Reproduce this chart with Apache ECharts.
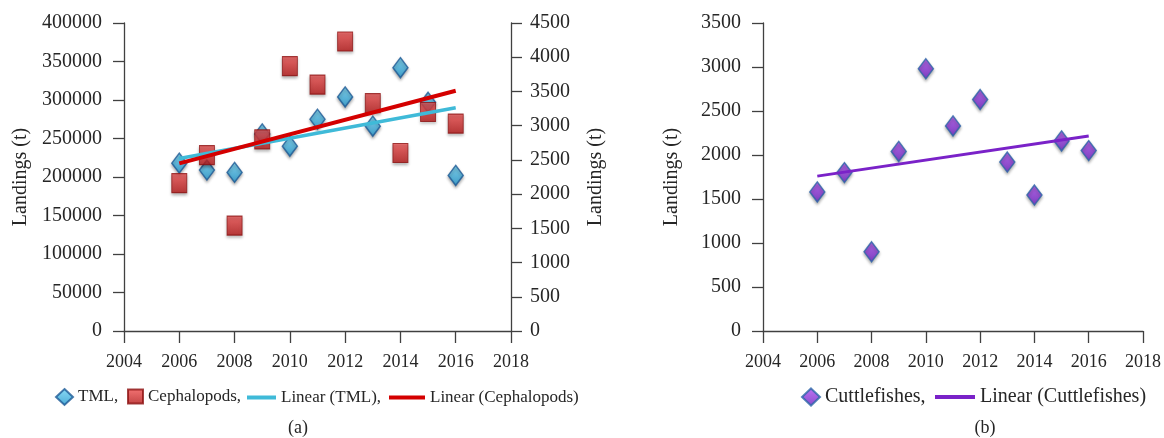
<!DOCTYPE html>
<html><head><meta charset="utf-8">
<script src="https://cdn.jsdelivr.net/npm/echarts@6/dist/echarts.min.js"></script>
<style>html,body{margin:0;padding:0;background:#fff}#c{width:1164px;height:438px}</style>
</head><body><div id="c"></div>
<script>
// ---- data ----
const years = [2006, 2007, 2008, 2009, 2010, 2011, 2012, 2013, 2014, 2015, 2016];
const tml = [218000, 209000, 206000, 256000, 240000, 275000, 304000, 266000, 342000, 297000, 202000];
const cephalopods = [2160, 2570, 1540, 2800, 3870, 3600, 4230, 3330, 2600, 3200, 3030];
const cuttlefishes = [1580, 1800, 900, 2040, 2980, 2330, 2630, 1920, 1545, 2160, 2050];
const trendYears = [2006, 2016];
const trendTML = [224000, 290000];
const trendCephalopods = [2450, 3510];
const trendCuttlefishes = [1760, 2215];
const xTickLabels = [2004, 2006, 2008, 2010, 2012, 2014, 2016, 2018];
const leftTicks = [0, 50000, 100000, 150000, 200000, 250000, 300000, 350000, 400000];
const rightTicks = [0, 500, 1000, 1500, 2000, 2500, 3000, 3500, 4000, 4500];
const cuttleTicks = [0, 500, 1000, 1500, 2000, 2500, 3000, 3500];
const names = ['TML,', 'Cephalopods,', 'Linear (TML),', 'Linear (Cephalopods)', 'Cuttlefishes,', 'Linear (Cuttlefishes)'];

const pairs = (xs, ys) => xs.map((x, i) => [x, ys[i]]);
const FONT = '"Liberation Serif", "Times New Roman", serif';
const TXT = '#262626';
const AX = '#404040';

function grad(c1, c2) {
  return new echarts.graphic.LinearGradient(0, 0, 0, 1, [{offset: 0, color: c1}, {offset: 1, color: c2}]);
}
function xAxis(gi) {
  return {
    type: 'value', gridIndex: gi,
    min: xTickLabels[0], max: xTickLabels[xTickLabels.length - 1], interval: xTickLabels[1] - xTickLabels[0],
    axisLine: {lineStyle: {color: AX, width: 1.3}},
    axisTick: {show: true, length: 12, lineStyle: {color: AX, width: 1.3}},
    axisLabel: {color: TXT, fontFamily: FONT, fontSize: 18, margin: 22, formatter: v => String(v)},
    splitLine: {show: false}
  };
}
function yAxis(gi, ticks, pos, gap) {
  return {
    type: 'value', gridIndex: gi, position: pos,
    min: ticks[0], max: ticks[ticks.length - 1], interval: ticks[1] - ticks[0],
    name: 'Landings (t)', nameLocation: 'middle', nameRotate: 90, nameGap: gap,
    nameTextStyle: {color: TXT, fontFamily: FONT, fontSize: 20},
    axisLine: {show: true, lineStyle: {color: AX, width: 1.3}},
    axisTick: {show: true, length: 11, lineStyle: {color: AX, width: 1.3}},
    axisLabel: {color: TXT, fontFamily: FONT, fontSize: 20, margin: pos === 'right' ? 19 : 22, formatter: v => String(v)},
    splitLine: {show: false}
  };
}
const shadow = {shadowBlur: 3, shadowColor: 'rgba(0,0,0,0.35)', shadowOffsetY: 2};
function leg(name, left, w, h, size, icon, top) {
  return {
    data: [{name: name, icon: icon}], left: left, top: top, padding: 0, itemWidth: w, itemHeight: h,
    symbolKeepAspect: false, selectedMode: false,
    textStyle: {color: TXT, fontFamily: FONT, fontSize: size}
  };
}

const chart = echarts.init(document.getElementById('c'), null, {renderer: 'canvas'});
chart.setOption({
  animation: false,
  backgroundColor: '#fff',
  grid: [
    {left: 124, right: 1164 - 511, top: 23, bottom: 438 - 331},
    {left: 763, right: 1164 - 1153, top: 23, bottom: 438 - 331}
  ],
  xAxis: [xAxis(0), xAxis(1)],
  yAxis: [
    yAxis(0, leftTicks, 'left', 93),
    yAxis(0, rightTicks, 'right', 75),
    yAxis(1, cuttleTicks, 'left', 81)
  ],
  legend: [
    leg(names[0], 55, 17, 16, 17, 'diamond', 388),
    leg(names[1], 127, 15, 14, 17, 'rect', 388),
    leg(names[2], 247, 29, 4, 17, 'rect', 389),
    leg(names[3], 389, 36, 4, 17, 'rect', 389),
    leg(names[4], 801, 18, 17, 20, 'diamond', 387),
    leg(names[5], 935, 40, 4, 20, 'rect', 387)
  ],
  graphic: [
    {type: 'text', x: 298, y: 428, style: {text: '(a)', fill: TXT, fontFamily: FONT, fontSize: 18, textAlign: 'center', textVerticalAlign: 'middle'}},
    {type: 'text', x: 985, y: 428, style: {text: '(b)', fill: TXT, fontFamily: FONT, fontSize: 18, textAlign: 'center', textVerticalAlign: 'middle'}}
  ],
  series: [
    {
      name: names[0], type: 'scatter', xAxisIndex: 0, yAxisIndex: 0,
      symbol: 'diamond', symbolSize: [15, 20], data: pairs(years, tml),
      itemStyle: Object.assign({color: grad('#6fd3f5', '#1e95cc'), borderColor: '#1d5a96', borderWidth: 1.5}, shadow)
    },
    {
      name: names[1], type: 'scatter', xAxisIndex: 0, yAxisIndex: 1,
      symbol: 'rect', symbolSize: [15, 19], data: pairs(years, cephalopods),
      itemStyle: Object.assign({color: grad('#f05050', '#b31515'), borderColor: '#8c1212', borderWidth: 1}, shadow)
    },
    {
      name: names[2], type: 'line', xAxisIndex: 0, yAxisIndex: 0, symbol: 'none',
      data: pairs(trendYears, trendTML), lineStyle: {color: '#3fbad8', width: 3.5}, itemStyle: {color: '#3fbad8'}
    },
    {
      name: names[3], type: 'line', xAxisIndex: 0, yAxisIndex: 1, symbol: 'none',
      data: pairs(trendYears, trendCephalopods), lineStyle: {color: '#d40000', width: 4}, itemStyle: {color: '#d40000'}
    },
    {
      name: names[4], type: 'scatter', xAxisIndex: 1, yAxisIndex: 2,
      symbol: 'diamond', symbolSize: [15, 20], data: pairs(years, cuttlefishes),
      itemStyle: Object.assign({color: grad('#b050f0', '#6a1fc0'), borderColor: '#2a64a8', borderWidth: 1.5}, shadow)
    },
    {
      name: names[5], type: 'line', xAxisIndex: 1, yAxisIndex: 2, symbol: 'none',
      data: pairs(trendYears, trendCuttlefishes), lineStyle: {color: '#7a22c8', width: 3}, itemStyle: {color: '#7a22c8'}
    }
  ]
});
</script>
</body></html>
